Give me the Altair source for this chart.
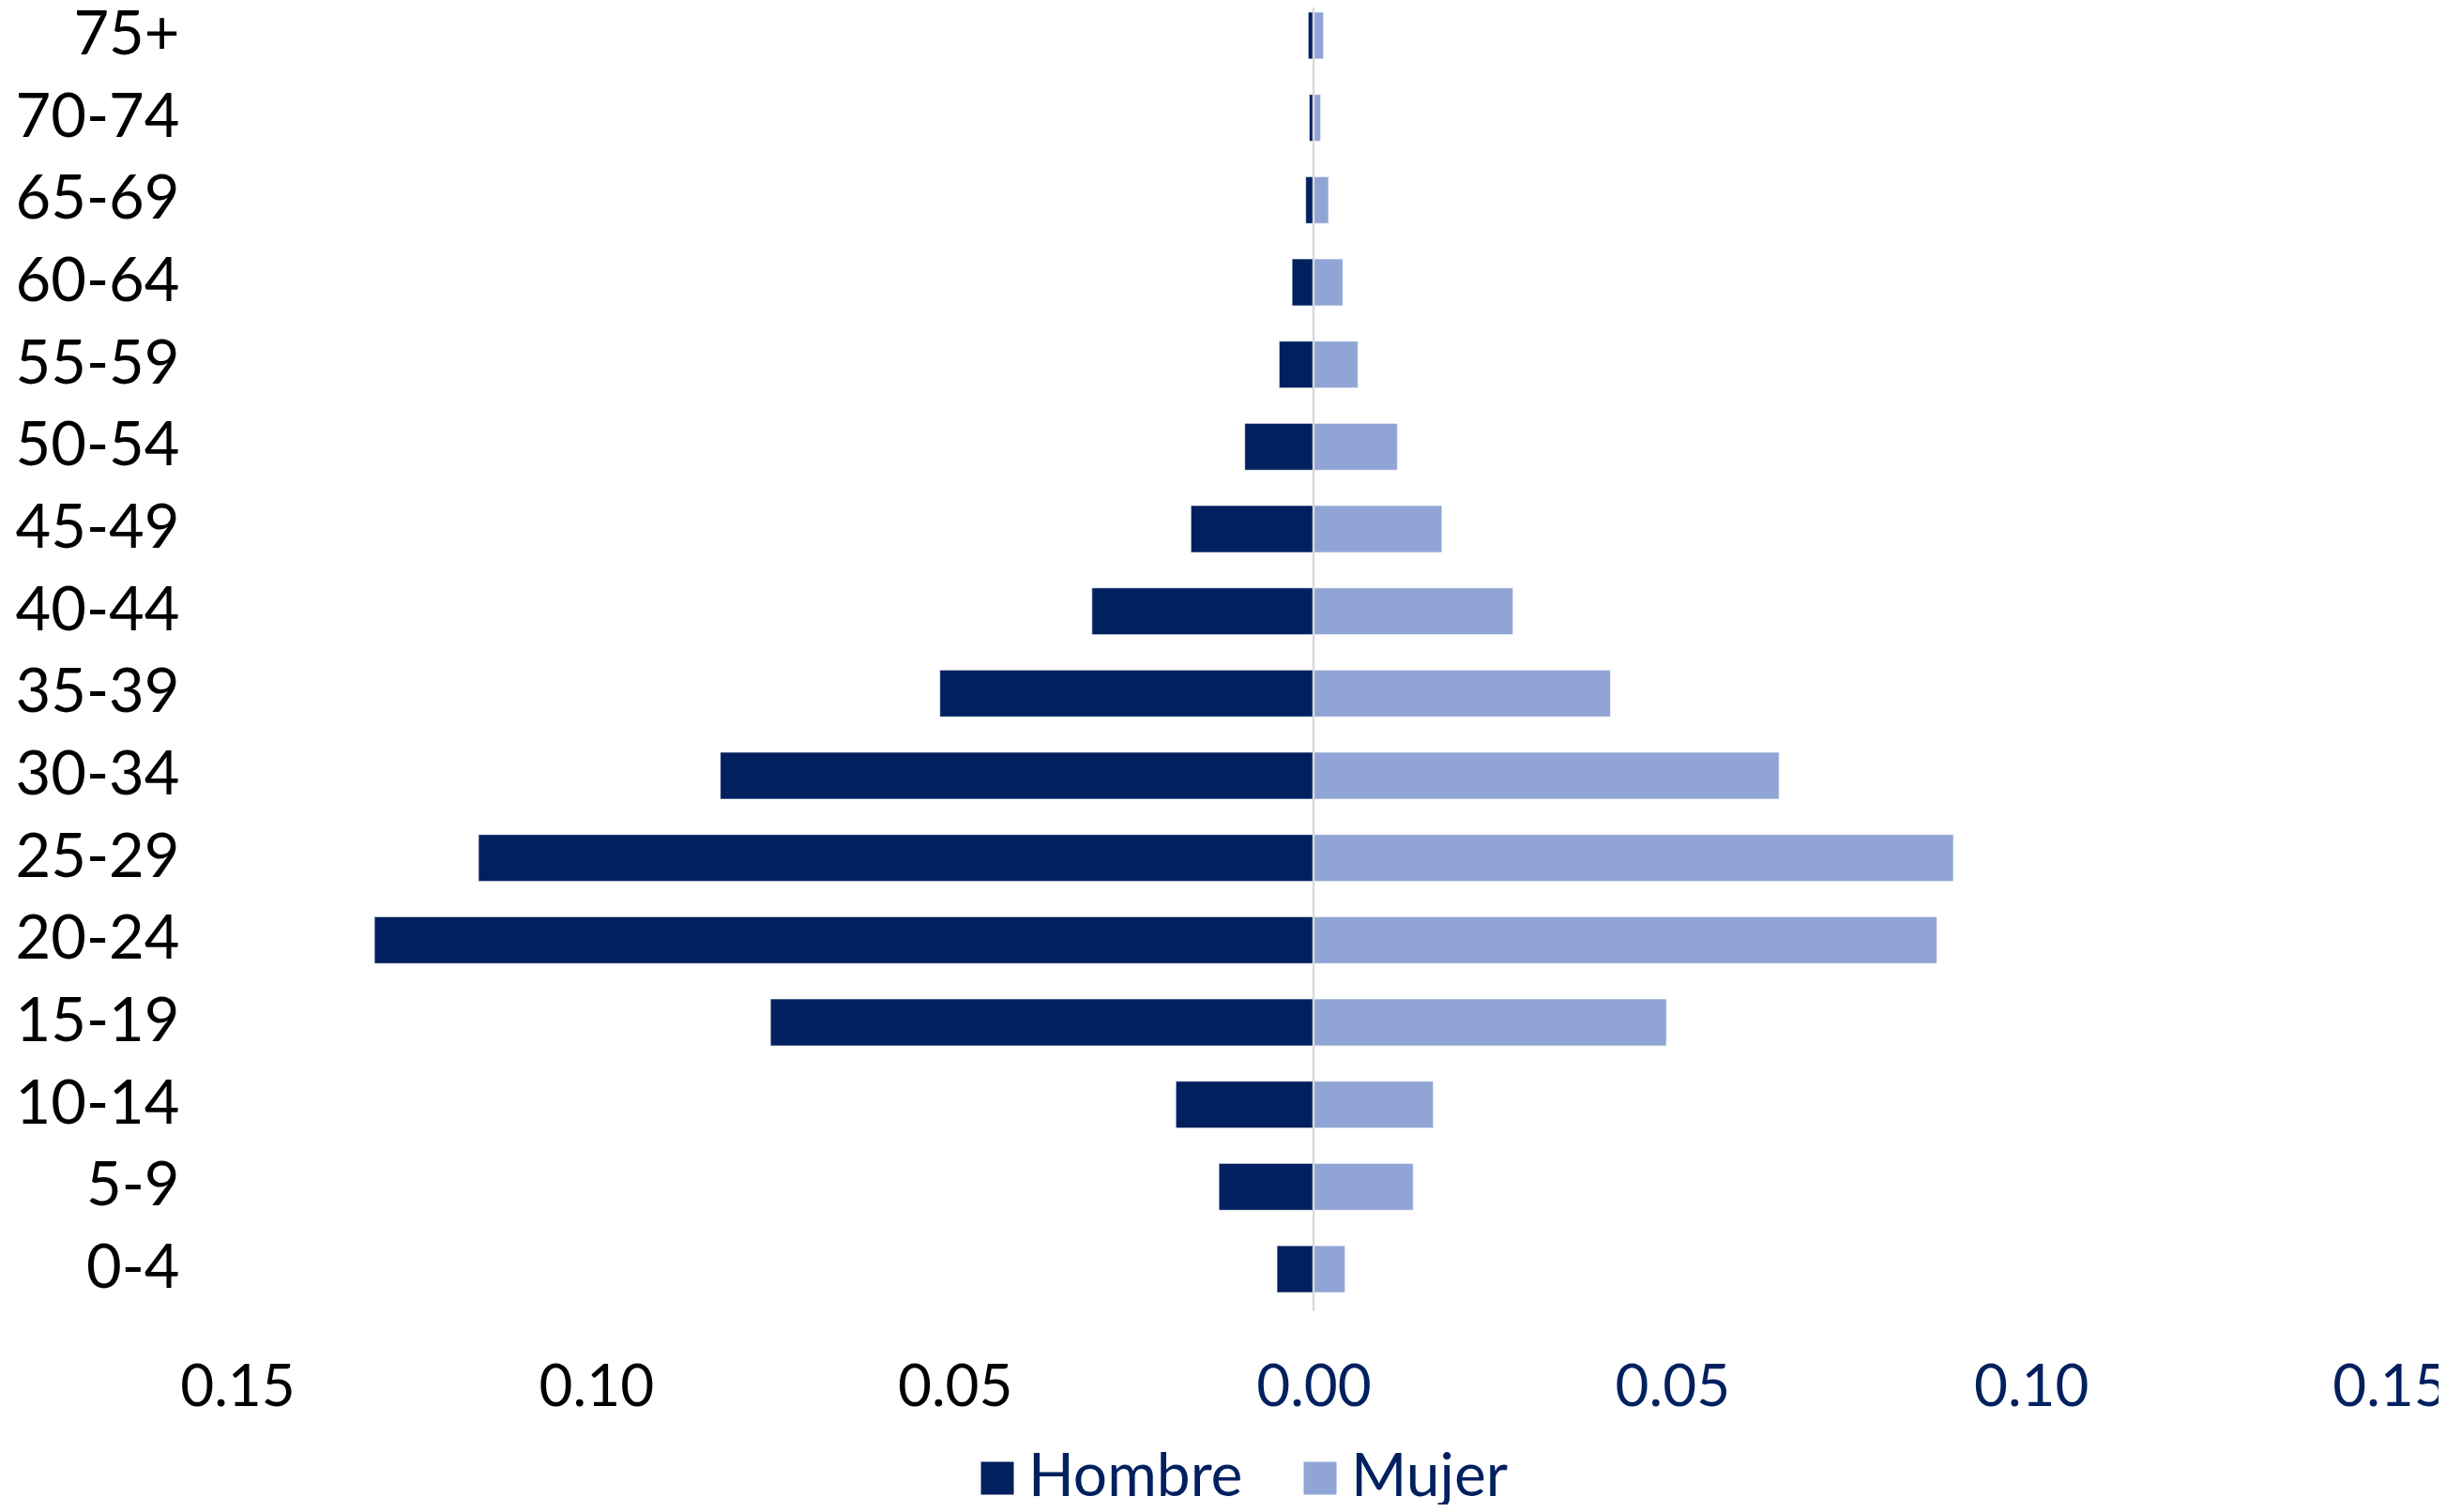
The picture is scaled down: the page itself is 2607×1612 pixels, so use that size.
import altair as alt
import pandas as pd

grupos = ["75+", "70-74", "65-69", "60-64", "55-59", "50-54", "45-49", "40-44",
          "35-39", "30-34", "25-29", "20-24", "15-19", "10-14", "5-9", "0-4"]
hombre = [0.00075, 0.0006, 0.0011, 0.0030, 0.0048, 0.0096, 0.0171, 0.0309,
          0.0521, 0.0827, 0.1164, 0.1309, 0.0757, 0.0192, 0.0132, 0.0051]
mujer = [0.0014, 0.0010, 0.0021, 0.0041, 0.0062, 0.0117, 0.0179, 0.0278,
         0.0414, 0.0649, 0.0892, 0.0869, 0.0492, 0.0167, 0.0139, 0.0044]
sexos = ["Hombre", "Mujer"]
colores = ["#00205F", "#90A5D5"]
ticks = [-0.15, -0.10, -0.05, 0.0, 0.05, 0.10, 0.15]

rows = []
for g, h, m in zip(grupos, hombre, mujer):
    rows.append({"grupo": g, "sexo": "Hombre", "valor": -h})
    rows.append({"grupo": g, "sexo": "Mujer", "valor": m})
df = pd.DataFrame(rows)

W, H = 2294, 1375
FONT = "Lato"

bars = alt.Chart(df).mark_bar(stroke="white", strokeWidth=1.2, strokeOpacity=0.6).encode(
    x=alt.X("valor:Q",
            scale=alt.Scale(domain=[-0.15, 0.15], nice=False, zero=True),
            axis=alt.Axis(values=ticks, title=None, grid=False, domain=False, ticks=False,
                          tickSize=0, labelPadding=66, labelFontSize=62, labelFont=FONT,
                          labelExpr="format(abs(datum.value), '.2f')",
                          labelColor=alt.expr("datum.value < 0 ? '#000000' : '#00205F'"),
                          labelFlush=False, labelOverlap=False)),
    y=alt.Y("grupo:N", sort=grupos,
            scale=alt.Scale(paddingInner=0.43, paddingOuter=0.057),
            axis=alt.Axis(title=None, domain=False, ticks=False, tickSize=0, labelPadding=62,
                          labelFontSize=65, labelFont=FONT, labelColor="#000000")),
    color=alt.Color("sexo:N",
                    scale=alt.Scale(domain=sexos, range=colores),
                    legend=alt.Legend(title=None, orient="none", direction="horizontal",
                                      legendX=778, legendY=1536,
                                      symbolType="square", symbolSize=1225,
                                      symbolStrokeWidth=0, labelFontSize=64,
                                      labelFont=FONT, labelColor="#00205F",
                                      labelLimit=0, labelOffset=1,
                                      columnPadding=50, padding=0)),
)

center = alt.Chart(pd.DataFrame({"x": [0.0]})).mark_rule(
    color="#D9D9D9", strokeWidth=2.5
).encode(x="x:Q", y=alt.value(-8), y2=alt.value(1390))

chart = alt.layer(bars, center).properties(
    width=W, height=H,
    autosize=alt.AutoSizeParams(type="none"),
    padding={"left": 245, "top": 0, "right": 52, "bottom": 221},
    background="white",
).configure_view(stroke=None)

chart.save("out.html", embed_options={"renderer": "svg", "actions": False})
